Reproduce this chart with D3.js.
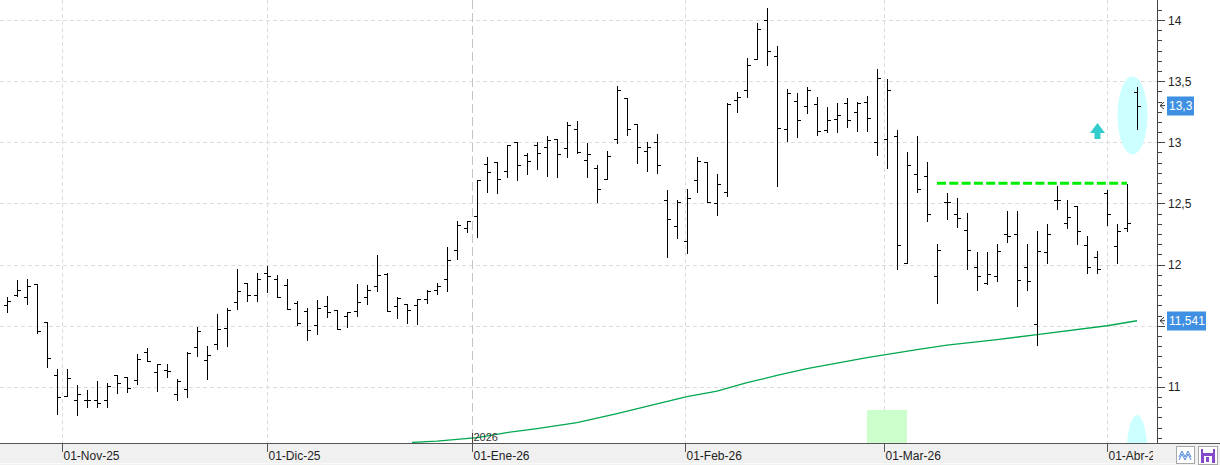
<!DOCTYPE html>
<html>
<head>
<meta charset="utf-8">
<script src="https://cdn.jsdelivr.net/npm/d3@7.9.0/dist/d3.min.js"></script>
<style>
  body { margin: 0; background: #fff; }
  svg { display: block; font-family: "Liberation Sans", Arial, sans-serif; }
</style>
</head>
<body>
<svg id="chart" width="1220" height="465"></svg>
<script>
// daily OHLC, one entry per session (late Oct 2025 -> early Apr 2026)
const opens = [11.670, 11.751, 11.733, 11.839, 11.528, 11.095, 10.923, 10.890, 10.890, 10.890,
  10.890, 11.095, 11.081, 11.056, 11.285, 11.119, 11.138, 10.939, 10.980, 11.324,
  11.217, 11.348, 11.479, 11.692, 11.847, 11.751, 11.929, 11.880, 11.833, 11.688,
  11.618, 11.504, 11.659, 11.626, 11.577, 11.621, 11.738, 11.823, 11.926, 11.662,
  11.678, 11.667, 11.721, 11.790, 11.880, 12.117, 12.299, 12.395, 12.820, 12.836,
  12.765, 13.000, 12.894, 12.978, 12.964, 13.025, 12.956, 13.111, 12.853, 12.787,
  12.702, 13.025, 13.360, 13.147, 12.926, 13.000, 12.526, 12.313, 12.191, 12.689,
  12.836, 12.501, 12.591, 13.343, 13.425, 13.679, 13.998, 13.703, 13.106, 13.335,
  13.294, 13.311, 13.098, 13.188, 13.319, 13.245, 13.327, 13.000, 13.025, 13.049,
  12.011, 12.738, 12.722, 11.904, 12.514, 12.411, 12.280, 11.978, 11.847, 11.904,
  12.248, 12.248, 11.978, 11.512, 12.101, 12.526, 12.338, 12.479, 12.158, 12.060,
  12.583, 12.150, 12.297, 13.409];
const highs = [11.733, 11.874, 11.880, 11.839, 11.533, 11.146, 11.146, 11.013, 10.975, 11.048,
  11.029, 11.097, 11.081, 11.269, 11.316, 11.185, 11.185, 11.065, 11.283, 11.492,
  11.334, 11.596, 11.643, 11.962, 11.847, 11.929, 11.989, 11.912, 11.880, 11.705,
  11.643, 11.708, 11.743, 11.626, 11.615, 11.841, 11.833, 12.079, 11.934, 11.735,
  11.678, 11.721, 11.790, 11.850, 12.144, 12.357, 12.357, 12.689, 12.880, 12.836,
  12.978, 13.000, 12.910, 13.000, 13.052, 13.025, 13.164, 13.172, 12.992, 12.812,
  12.929, 13.460, 13.360, 13.147, 13.000, 13.065, 12.608, 12.526, 12.616, 12.877,
  12.836, 12.741, 13.319, 13.409, 13.687, 13.973, 14.098, 13.785, 13.433, 13.403,
  13.450, 13.368, 13.286, 13.319, 13.360, 13.327, 13.376, 13.597, 13.515, 13.098,
  12.918, 13.049, 12.836, 12.166, 12.583, 12.545, 12.422, 12.101, 12.101, 12.166,
  12.436, 12.436, 12.166, 12.272, 12.330, 12.640, 12.526, 12.479, 12.231, 12.109,
  12.608, 12.330, 12.657, 13.450];
const lows = [11.610, 11.746, 11.675, 11.438, 11.165, 10.776, 10.923, 10.768, 10.838, 10.838,
  10.838, 10.953, 10.956, 11.021, 11.212, 10.969, 11.083, 10.890, 10.915, 11.255,
  11.067, 11.307, 11.337, 11.639, 11.705, 11.705, 11.778, 11.738, 11.639, 11.504,
  11.381, 11.435, 11.574, 11.471, 11.487, 11.582, 11.675, 11.787, 11.618, 11.566,
  11.525, 11.517, 11.686, 11.757, 11.787, 12.048, 12.269, 12.228, 12.596, 12.588,
  12.719, 12.694, 12.743, 12.784, 12.727, 12.719, 12.882, 12.910, 12.719, 12.514,
  12.697, 12.997, 13.062, 12.833, 12.768, 12.747, 12.065, 12.220, 12.097, 12.596,
  12.509, 12.408, 12.563, 13.250, 13.373, 13.679, 13.635, 12.645, 13.013, 13.046,
  13.237, 13.062, 13.087, 13.087, 13.128, 13.095, 13.095, 12.899, 12.792, 11.966,
  12.011, 12.596, 12.359, 11.686, 12.375, 12.310, 11.966, 11.795, 11.839, 11.868,
  12.187, 11.664, 11.790, 11.345, 12.011, 12.452, 12.297, 12.166, 11.929, 11.929,
  12.321, 12.011, 12.277, 13.111];
const closes = [11.705, 11.790, 11.825, 11.455, 11.234, 10.917, 11.070, 10.939, 10.890, 10.871,
  11.007, 11.029, 10.993, 11.228, 11.212, 11.185, 11.130, 11.048, 11.275, 11.457,
  11.258, 11.471, 11.626, 11.782, 11.751, 11.880, 11.907, 11.738, 11.639, 11.520,
  11.465, 11.643, 11.612, 11.471, 11.615, 11.694, 11.790, 11.915, 11.618, 11.727,
  11.626, 11.721, 11.782, 11.825, 12.035, 12.321, 12.354, 12.689, 12.757, 12.702,
  12.978, 12.812, 12.845, 12.910, 13.019, 12.904, 13.139, 12.923, 12.904, 12.616,
  12.886, 13.425, 13.106, 12.959, 12.959, 12.812, 12.370, 12.509, 12.542, 12.845,
  12.509, 12.657, 13.311, 13.373, 13.630, 13.924, 13.744, 13.114, 13.401, 13.180,
  13.425, 13.090, 13.180, 13.221, 13.180, 13.319, 13.196, 13.523, 13.425, 12.158,
  12.812, 12.616, 12.416, 12.117, 12.514, 12.379, 12.117, 11.904, 11.921, 12.109,
  12.231, 11.872, 11.863, 12.109, 12.248, 12.526, 12.387, 12.272, 11.978, 11.962,
  12.411, 12.272, 12.338, 13.300];

// long moving average, read at a few sessions
const maIdx = [40.5, 43, 47, 50, 53, 57, 61, 65, 68, 71, 74, 77, 80, 83, 86, 91, 94, 99, 103, 110, 113];
const maVals = [10.546, 10.556, 10.585, 10.627, 10.659, 10.708, 10.781, 10.861, 10.921, 10.966,
  11.034, 11.094, 11.149, 11.195, 11.239, 11.305, 11.341, 11.387, 11.427, 11.500, 11.541];

const monthPos = [5.5, 26, 46.5, 67.75, 87.7, 110];
const monthLabels = ['01-Nov-25', '01-Dic-25', '01-Ene-26', '01-Feb-26', '01-Mar-26', '01-Abr-26'];
const yTicks = [11, 11.5, 12, 12.5, 13, 13.5, 14];

const lastPrice = 13.3;
const maLast = 11.541;
const resistance = 12.665;

const svg = d3.select('#chart');
const plotR = 1157, plotB = 443;

const x = d3.scaleLinear().domain([0, 113]).range([7, 1137]);
const y = d3.scaleLinear().domain([11, 14]).range([386.9, 20]);
const px = (v) => Math.round(v) + 0.5;
const comma = (v) => String(v).replace('.', ',');

svg.append('defs').append('clipPath').attr('id', 'plot')
  .append('rect').attr('width', plotR).attr('height', plotB);
svg.select('defs').append('clipPath').attr('id', 'dates')
  .append('rect').attr('y', plotB).attr('width', 1153).attr('height', 22);

// bottom date strip
svg.append('rect').attr('x', 0).attr('y', plotB).attr('width', 1220).attr('height', 465 - plotB).attr('fill', '#f0f0f0');
svg.append('line').attr('x1', 0).attr('x2', 1220).attr('y1', 463.5).attr('y2', 463.5).attr('stroke', '#fafafa');

const plot = svg.append('g').attr('clip-path', 'url(#plot)');

// grid
plot.selectAll('.hgrid').data(yTicks).enter().append('line')
  .attr('x1', 0).attr('x2', plotR)
  .attr('y1', (d) => px(y(d))).attr('y2', (d) => px(y(d)))
  .attr('stroke', '#dcdcdc').attr('stroke-dasharray', '4,3');
plot.selectAll('.vgrid').data(monthPos).enter().append('line')
  .attr('x1', (d) => px(x(d))).attr('x2', (d) => px(x(d)))
  .attr('y1', 0).attr('y2', plotB)
  .attr('stroke', (d, i) => (i === 2 ? '#c4c4c4' : '#dcdcdc'))
  .attr('stroke-dasharray', (d, i) => (i === 2 ? '9,4' : '4,3'));

// annotations
plot.append('rect')
  .attr('x', Math.round(x(86))).attr('y', Math.round(y(10.81)))
  .attr('width', Math.round(x(90) - x(86))).attr('height', plotB - Math.round(y(10.81)))
  .attr('fill', '#ccffcc');
plot.append('ellipse')
  .attr('cx', x(113) - 4.5).attr('cy', y(13.22))
  .attr('rx', 15).attr('ry', 39).attr('fill', '#ccffff');
plot.append('ellipse')
  .attr('cx', x(113)).attr('cy', plotB + 7)
  .attr('rx', 10).attr('ry', 35).attr('fill', '#ccffff');

const ax = x(109) + 0.5;
plot.append('path')
  .attr('d', `M${ax},${y(13.158)} L${ax + 7.5},${y(13.076)} L${ax + 3},${y(13.076)} L${ax + 3},${y(13.027)}
    L${ax - 3},${y(13.027)} L${ax - 3},${y(13.076)} L${ax - 7.5},${y(13.076)} Z`)
  .attr('fill', '#33cccc');

// moving average
const maLine = d3.line().x((d) => x(d[0])).y((d) => y(d[1]));
plot.append('path')
  .datum(maIdx.map((d, i) => [d, maVals[i]]))
  .attr('d', maLine)
  .attr('fill', 'none').attr('stroke', '#00a84f').attr('stroke-width', 1.3);

// resistance
plot.append('line')
  .attr('x1', x(93)).attr('x2', x(112))
  .attr('y1', y(resistance)).attr('y2', y(resistance))
  .attr('stroke', '#00ee00').attr('stroke-width', 3).attr('stroke-dasharray', '9,3.3');

// OHLC bars
const bars = opens.map((o, i) => ({ i, o, h: highs[i], l: lows[i], c: closes[i] }));
const g = plot.append('g').attr('stroke', '#000').attr('shape-rendering', 'crispEdges');
const bar = g.selectAll('g').data(bars).enter().append('g');
bar.append('line')
  .attr('x1', (d) => px(x(d.i))).attr('x2', (d) => px(x(d.i)))
  .attr('y1', (d) => Math.round(y(d.h))).attr('y2', (d) => Math.round(y(d.l)) + 1);
bar.append('line')
  .attr('x1', (d) => Math.round(x(d.i)) - 3).attr('x2', (d) => Math.round(x(d.i)))
  .attr('y1', (d) => px(y(d.o))).attr('y2', (d) => px(y(d.o)));
bar.append('line')
  .attr('x1', (d) => Math.round(x(d.i)) + 1).attr('x2', (d) => Math.round(x(d.i)) + 4)
  .attr('y1', (d) => px(y(d.c))).attr('y2', (d) => px(y(d.c)));

// year marker
const jx = px(x(monthPos[2]));
svg.append('line').attr('x1', jx).attr('x2', jx).attr('y1', plotB - 10).attr('y2', plotB)
  .attr('stroke', '#444');
svg.append('text').attr('x', jx + 1).attr('y', plotB - 2)
  .attr('font-size', 11).attr('fill', '#333').text('2026');

// bottom axis
svg.append('line').attr('x1', 0).attr('x2', 1220).attr('y1', plotB + 0.5).attr('y2', plotB + 0.5)
  .attr('stroke', '#555');
svg.selectAll('.mtick').data(monthPos).enter().append('line')
  .attr('x1', (d) => px(x(d))).attr('x2', (d) => px(x(d)))
  .attr('y1', plotB).attr('y2', plotB + 9).attr('stroke', '#555');
svg.append('g').attr('clip-path', 'url(#dates)')
  .selectAll('text').data(monthPos).enter().append('text')
  .attr('x', (d) => Math.round(x(d)) + 1.5).attr('y', 460)
  .attr('font-size', 12).attr('fill', '#222')
  .text((d, i) => monthLabels[i]);

// right price axis
const yAxis = svg.append('g');
yAxis.append('line').attr('x1', plotR + 0.5).attr('x2', plotR + 0.5).attr('y1', 0).attr('y2', plotB)
  .attr('stroke', '#444');
const minor = d3.range(10.5, 14.2, 1 / 12).filter((v) => y(v) >= 0 && y(v) <= plotB);
yAxis.selectAll('.minor').data(minor).enter().append('line')
  .attr('x1', plotR).attr('x2', plotR + 5)
  .attr('y1', (d) => px(y(d))).attr('y2', (d) => px(y(d)))
  .attr('stroke', '#444');
yAxis.selectAll('.major').data(yTicks).enter().append('line')
  .attr('x1', plotR).attr('x2', plotR + 8)
  .attr('y1', (d) => px(y(d))).attr('y2', (d) => px(y(d)))
  .attr('stroke', '#444');
// tick labels hidden under a value flag are not printed
const flagged = [lastPrice, maLast];
yAxis.selectAll('text')
  .data(yTicks.filter((t) => flagged.every((f) => Math.abs(y(t) - y(f)) > 14)))
  .enter().append('text')
  .attr('x', plotR + 11).attr('y', (d) => y(d) + 4.5)
  .attr('font-size', 12).attr('fill', '#222')
  .text(comma);

// value flags
function flag(v, w) {
  const cy = y(v);
  svg.append('path')
    .attr('d', `M${plotR + 7},${cy - 3.5} L${plotR + 3},${cy} L${plotR + 7},${cy + 3.5} M${plotR + 3},${cy} L${plotR + 8},${cy}`)
    .attr('fill', 'none').attr('stroke', '#333');
  svg.append('rect').attr('x', plotR + 10).attr('y', Math.round(cy) - 9.5)
    .attr('width', w).attr('height', 19).attr('fill', '#3f8fe2');
  svg.append('text').attr('x', plotR + 12).attr('y', cy + 4.5)
    .attr('font-size', 12).attr('fill', '#fff').text(comma(v));
}
flag(lastPrice, 27);
flag(maLast, 39);

// toolbar buttons
svg.append('rect').attr('x', 1176.5).attr('y', 446.5).attr('width', 18).attr('height', 17)
  .attr('fill', '#fff').attr('stroke', '#a8a8a8');
svg.append('path').attr('d', 'M1179,457 L1182,451 L1185,457 L1188,451 L1191,457 M1179,460 L1182,454 L1185,460 L1188,454 L1191,460')
  .attr('fill', 'none').attr('stroke', '#4a86d8').attr('stroke-width', 1);
svg.append('rect').attr('x', 1198.5).attr('y', 446.5).attr('width', 19).attr('height', 18)
  .attr('fill', '#fff').attr('stroke', '#a8a8a8');
svg.append('rect').attr('x', 1201).attr('y', 449).attr('width', 14).attr('height', 14).attr('fill', '#8548c8');
svg.append('rect').attr('x', 1203).attr('y', 449).attr('width', 10).attr('height', 4).attr('fill', '#fff');
svg.append('rect').attr('x', 1204).attr('y', 456).attr('width', 8).attr('height', 7).attr('fill', '#fff');
svg.append('rect').attr('x', 1206).attr('y', 457).attr('width', 3).attr('height', 5).attr('fill', '#8548c8');
</script>
</body>
</html>
